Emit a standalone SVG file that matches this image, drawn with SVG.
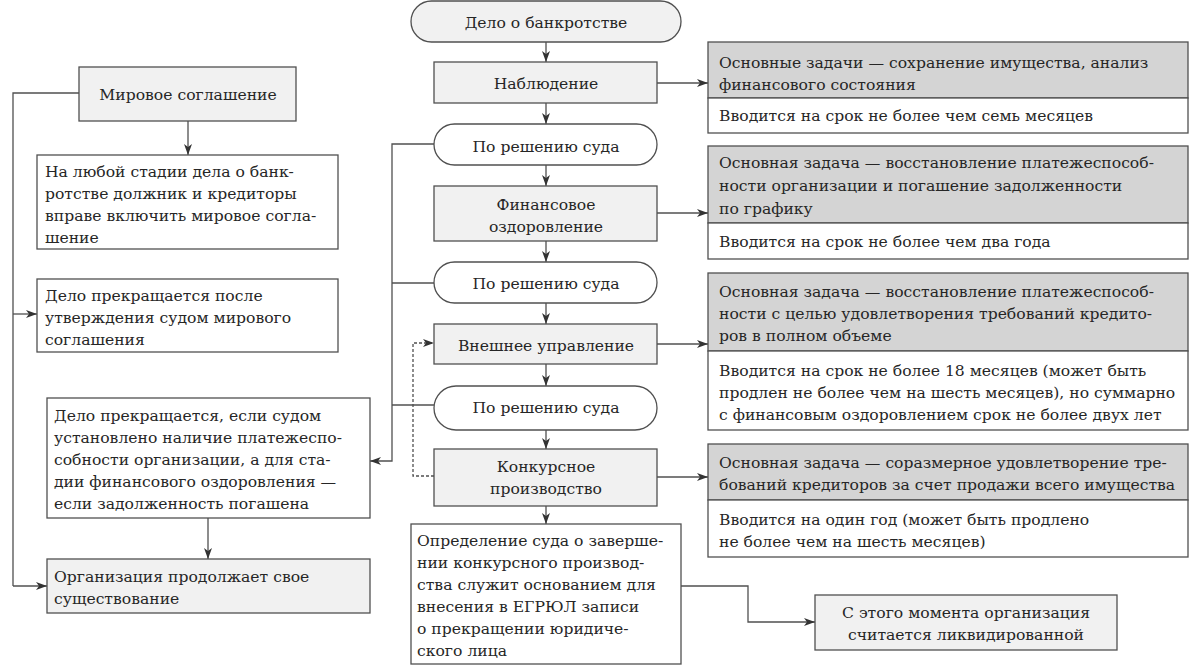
<svg xmlns="http://www.w3.org/2000/svg" width="1190" height="665" viewBox="0 0 1190 665">
<style>
.b{stroke:#505050;stroke-width:1.3;fill:#fff}
.l{fill:#f1f1f1}
.d{fill:#d4d4d4}
.c{stroke:#505050;stroke-width:1.3;fill:none}
.dot{stroke-dasharray:3 2}
text{font-family:"DejaVu Serif","Liberation Serif",serif;font-size:15.6px;fill:#262626}
.m{text-anchor:middle}
</style>
<defs>
<marker id="ah" markerUnits="userSpaceOnUse" markerWidth="12" markerHeight="9" refX="11" refY="4" orient="auto">
<path d="M0,0 L11,4 L0,8 L3,4 z" fill="#333"/>
</marker>
</defs>
<rect width="1190" height="665" fill="#fff"/>
<g id="connectors">
<path class="c" d="M79,93 H13 V586"/>
<path class="c" d="M13,314 H37" marker-end="url(#ah)"/>
<path class="c" d="M13,586 H47" marker-end="url(#ah)"/>
<path class="c" d="M188,121 V155" marker-end="url(#ah)"/>
<path class="c" d="M208,518 V559" marker-end="url(#ah)"/>
<path class="c" d="M434,144 H392 V461 H370" marker-end="url(#ah)"/>
<path class="c" d="M434,283 H392"/>
<path class="c" d="M434,405 H392"/>
<path class="c dot" d="M434,476 H413 V343 H434" marker-end="url(#ah)"/>
<path class="c" d="M546,42 V62" marker-end="url(#ah)"/>
<path class="c" d="M546,103 V124" marker-end="url(#ah)"/>
<path class="c" d="M546,165 V186" marker-end="url(#ah)"/>
<path class="c" d="M546,241 V262" marker-end="url(#ah)"/>
<path class="c" d="M546,303 V324" marker-end="url(#ah)"/>
<path class="c" d="M546,364 V386" marker-end="url(#ah)"/>
<path class="c" d="M546,430 V449" marker-end="url(#ah)"/>
<path class="c" d="M546,506 V524" marker-end="url(#ah)"/>
<path class="c" d="M657,83 H708" marker-end="url(#ah)"/>
<path class="c" d="M657,213 H708" marker-end="url(#ah)"/>
<path class="c" d="M657,344 H708" marker-end="url(#ah)"/>
<path class="c" d="M657,477 H708" marker-end="url(#ah)"/>
<path class="c" d="M681,586 H748 V622 H815" marker-end="url(#ah)"/>
</g>
<g id="n-mirovoe">
<rect class="b l" x="79" y="67" width="217" height="54"/>
<text class="m" x="188" y="100">Мировое соглашение</text>
</g>
<g id="n-lyuboy">
<rect class="b" x="37" y="155" width="301" height="94"/>
<text x="45" y="177">На любой стадии дела о банк-</text>
<text x="45" y="199">ротстве должник и кредиторы</text>
<text x="45" y="221">вправе включить мировое согла-</text>
<text x="45" y="243">шение</text>
</g>
<g id="n-prekr1">
<rect class="b" x="37" y="279" width="301" height="73"/>
<text x="45" y="301">Дело прекращается после</text>
<text x="45" y="323">утверждения судом мирового</text>
<text x="45" y="345">соглашения</text>
</g>
<g id="n-prekr2">
<rect class="b" x="47" y="398" width="323" height="120"/>
<text x="54" y="421">Дело прекращается, если судом</text>
<text x="54" y="443">установлено наличие платежеспо-</text>
<text x="54" y="465">собности организации, а для ста-</text>
<text x="54" y="487">дии финансового оздоровления —</text>
<text x="54" y="509">если задолженность погашена</text>
</g>
<g id="n-prodolzh">
<rect class="b l" x="47" y="559" width="323" height="54"/>
<text x="54" y="582">Организация продолжает свое</text>
<text x="54" y="604">существование</text>
</g>
<g id="n-delo">
<rect class="b l" x="411" y="1" width="270" height="41" rx="20.5"/>
<text class="m" x="546" y="28">Дело о банкротстве</text>
</g>
<g id="n-nabl">
<rect class="b l" x="434" y="62" width="223" height="41"/>
<text class="m" x="546" y="89">Наблюдение</text>
</g>
<g id="n-resh1">
<rect class="b" x="434" y="124" width="223" height="41" rx="20.5"/>
<text class="m" x="546" y="152">По решению суда</text>
</g>
<g id="n-fin">
<rect class="b l" x="434" y="186" width="223" height="55"/>
<text class="m" x="546" y="210">Финансовое</text>
<text class="m" x="546" y="232">оздоровление</text>
</g>
<g id="n-resh2">
<rect class="b" x="434" y="262" width="223" height="41" rx="20.5"/>
<text class="m" x="546" y="289">По решению суда</text>
</g>
<g id="n-vnesh">
<rect class="b l" x="434" y="324" width="223" height="40"/>
<text class="m" x="546" y="351">Внешнее управление</text>
</g>
<g id="n-resh3">
<rect class="b" x="434" y="386" width="223" height="44" rx="22"/>
<text class="m" x="546" y="413">По решению суда</text>
</g>
<g id="n-konk">
<rect class="b l" x="434" y="449" width="223" height="57"/>
<text class="m" x="546" y="472">Конкурсное</text>
<text class="m" x="546" y="494">производство</text>
</g>
<g id="n-opred">
<rect class="b" x="411" y="524" width="270" height="140"/>
<text x="417" y="546">Определение суда о заверше-</text>
<text x="417" y="568">нии конкурсного производ-</text>
<text x="417" y="590">ства служит основанием для</text>
<text x="417" y="612">внесения в ЕГРЮЛ записи</text>
<text x="417" y="634">о прекращении юридиче-</text>
<text x="417" y="656">ского лица</text>
</g>
<g id="n-likv">
<rect class="b l" x="815" y="595" width="302" height="55"/>
<text class="m" x="966" y="618">С этого момента организация</text>
<text class="m" x="966" y="640">считается ликвидированной</text>
</g>
<g id="n-r1">
<rect class="b d" x="708" y="42" width="480" height="56"/>
<rect class="b" x="708" y="98" width="480" height="35"/>
<text x="719" y="68">Основные задачи — сохранение имущества, анализ</text>
<text x="719" y="90">финансового состояния</text>
<text x="719" y="121">Вводится на срок не более чем семь месяцев</text>
</g>
<g id="n-r2">
<rect class="b d" x="708" y="146" width="480" height="77"/>
<rect class="b" x="708" y="223" width="480" height="36"/>
<text x="719" y="168">Основная задача — восстановление платежеспособ-</text>
<text x="719" y="191">ности организации и погашение задолженности</text>
<text x="719" y="214">по графику</text>
<text x="719" y="247">Вводится на срок не более чем два года</text>
</g>
<g id="n-r3">
<rect class="b d" x="708" y="273" width="480" height="78"/>
<rect class="b" x="708" y="351" width="480" height="79"/>
<text x="719" y="297">Основная задача — восстановление платежеспособ-</text>
<text x="719" y="319">ности с целью удовлетворения требований кредито-</text>
<text x="719" y="341">ров в полном объеме</text>
<text x="719" y="376">Вводится на срок не более 18 месяцев (может быть</text>
<text x="719" y="398">продлен не более чем на шесть месяцев), но суммарно</text>
<text x="719" y="420">с финансовым оздоровлением срок не более двух лет</text>
</g>
<g id="n-r4">
<rect class="b d" x="708" y="444" width="480" height="56"/>
<rect class="b" x="708" y="500" width="480" height="57"/>
<text x="719" y="468">Основная задача — соразмерное удовлетворение тре-</text>
<text x="719" y="490">бований кредиторов за счет продажи всего имущества</text>
<text x="719" y="525">Вводится на один год (может быть продлено</text>
<text x="719" y="547">не более чем на шесть месяцев)</text>
</g>
</svg>
